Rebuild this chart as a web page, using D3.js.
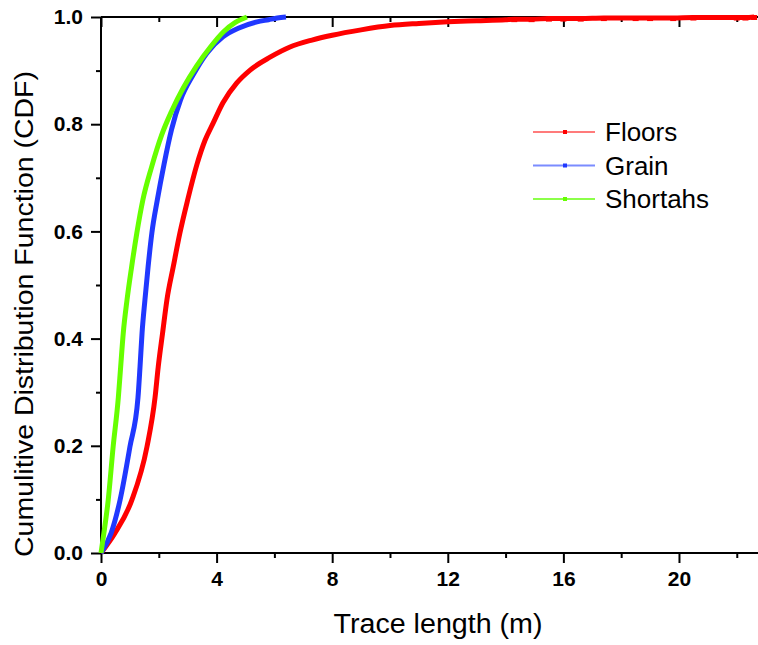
<!DOCTYPE html>
<meta charset="utf-8" />
<script src="https://d3js.org/d3.v7.min.js"></script>
<style>
  body { margin: 0; background: #fff; }
  text { font-family: "Liberation Sans", Arial, sans-serif; }
</style>
<body>
<div id="chart"></div>
<script>
  // CDF values: [trace length (m), CDF]
  var floors = [
    [0, 0], [0.48, 0.037], [1.07, 0.099], [1.59, 0.198], [1.87, 0.29],
    [1.98, 0.347], [2.13, 0.41], [2.28, 0.472], [2.5, 0.534], [2.73, 0.597],
    [3.0, 0.659], [3.32, 0.725], [3.6, 0.77], [3.88, 0.802], [4.22, 0.84],
    [4.7, 0.877], [5.16, 0.901], [5.85, 0.925], [6.54, 0.944], [7.3, 0.957],
    [8, 0.966], [9, 0.976], [10, 0.984], [11, 0.988], [12, 0.991],
    [13, 0.993], [14, 0.995], [14.3, 0.996], [14.9, 0.996], [15.5, 0.997],
    [16.0, 0.997], [16.6, 0.997], [17.4, 0.998], [18.5, 0.998], [19.0, 0.998],
    [19.8, 0.998], [20.5, 0.999], [22.0, 0.999], [22.3, 0.999], [22.6, 1.0]
  ];
  var grain = [
    [0, 0], [0.35, 0.037], [0.66, 0.099], [1.0, 0.198], [1.28, 0.29],
    [1.35, 0.347], [1.42, 0.41], [1.52, 0.472], [1.63, 0.534], [1.76, 0.597],
    [1.95, 0.659], [2.18, 0.725], [2.44, 0.79], [2.75, 0.845], [3.2, 0.893],
    [3.67, 0.933], [4.22, 0.963], [4.75, 0.979], [5.4, 0.991], [5.8, 0.995],
    [6.1, 0.998], [6.4, 1.0]
  ];
  var shortahs = [
    [0, 0], [0.1, 0.037], [0.25, 0.099], [0.42, 0.198], [0.6, 0.29],
    [0.68, 0.347], [0.77, 0.41], [0.9, 0.472], [1.06, 0.534], [1.24, 0.597],
    [1.45, 0.659], [1.75, 0.72], [2.1, 0.78], [2.45, 0.825], [2.85, 0.868],
    [3.3, 0.908], [3.8, 0.945], [4.25, 0.973], [4.65, 0.99], [5.05, 1.0]
  ];
  var seriesNames = ["Floors", "Grain", "Shortahs"];
  var seriesColors = ["#ff0000", "#2038ff", "#66ff00"];
  var legendColors = ["#ff7b7b", "#7b8cff", "#8cff4a"];
  var xMajor = [0, 4, 8, 12, 16, 20];
  var xMinor = [2, 6, 10, 14, 18, 22];
  var yMajor = [0, 0.2, 0.4, 0.6, 0.8, 1.0];
  var yMinor = [0.1, 0.3, 0.5, 0.7, 0.9];

  var W = 758, H = 645;
  var plotL = 101, plotR = 757, plotT = 17, plotB = 553;

  var svg = d3.select("#chart").append("svg")
    .attr("width", W).attr("height", H);

  var x = d3.scaleLinear().domain([0, 22.7]).range([plotL, plotR]);
  var y = d3.scaleLinear().domain([0, 1]).range([plotB, plotT]);

  function styleAxis(g) {
    g.attr("font-size", 21).attr("font-weight", "bold")
      .attr("font-family", "'Liberation Sans', Arial, sans-serif");
    g.select(".domain").remove();
    g.selectAll("line").attr("stroke", "#000").attr("stroke-width", 2);
    g.selectAll("text").attr("fill", "#000");
  }

  // bottom axis
  svg.append("g").attr("transform", "translate(0," + plotB + ")")
    .call(d3.axisBottom(x).tickValues(xMajor).tickSize(10).tickPadding(8)
      .tickFormat(d3.format("d")))
    .call(styleAxis);
  svg.append("g").attr("transform", "translate(0," + plotB + ")")
    .call(d3.axisBottom(x).tickValues(xMinor).tickSize(5).tickFormat(""))
    .call(styleAxis);

  // left axis
  svg.append("g").attr("transform", "translate(" + plotL + ",0)")
    .call(d3.axisLeft(y).tickValues(yMajor).tickSize(10).tickPadding(8)
      .tickFormat(d3.format(".1f")))
    .call(styleAxis);
  svg.append("g").attr("transform", "translate(" + plotL + ",0)")
    .call(d3.axisLeft(y).tickValues(yMinor).tickSize(5).tickFormat(""))
    .call(styleAxis);

  // top axis, ticks pointing inward
  svg.append("g").attr("transform", "translate(0," + plotT + ")")
    .call(d3.axisTop(x).tickValues(xMajor).tickSize(-10).tickFormat(""))
    .call(styleAxis);
  svg.append("g").attr("transform", "translate(0," + plotT + ")")
    .call(d3.axisTop(x).tickValues(xMinor).tickSize(-5).tickFormat(""))
    .call(styleAxis);

  // frame lines
  svg.append("line").attr("x1", plotL).attr("x2", W).attr("y1", plotB).attr("y2", plotB)
    .attr("stroke", "#000").attr("stroke-width", 2);
  svg.append("line").attr("x1", plotL).attr("x2", W).attr("y1", plotT).attr("y2", plotT)
    .attr("stroke", "#000").attr("stroke-width", 2);
  svg.append("line").attr("x1", plotL).attr("x2", plotL).attr("y1", plotT).attr("y2", plotB)
    .attr("stroke", "#000").attr("stroke-width", 2);

  // axis titles
  svg.append("text")
    .attr("x", 438).attr("y", 633)
    .attr("text-anchor", "middle")
    .attr("textLength", 209).attr("lengthAdjust", "spacingAndGlyphs")
    .style("font-size", "27px")
    .text("Trace length (m)");

  svg.append("text")
    .attr("transform", "translate(33,314) rotate(-90)")
    .attr("text-anchor", "middle")
    .attr("textLength", 486).attr("lengthAdjust", "spacingAndGlyphs")
    .style("font-size", "26px")
    .text("Cumulitive Distribution Function (CDF)");

  // curves
  var line = d3.line()
    .x(function(d) { return x(d[0]); })
    .y(function(d) { return y(d[1]); })
    .curve(d3.curveMonotoneX);

  var allSeries = [floors, grain, shortahs];
  allSeries.forEach(function(data, i) {
    svg.append("path")
      .datum(data)
      .attr("d", line)
      .attr("fill", "none")
      .attr("stroke", seriesColors[i])
      .attr("stroke-width", 5)
      .attr("stroke-linejoin", "round");
  });

  // scattered tail symbols of Floors
  svg.selectAll(".tail")
    .data(floors.filter(function(d) { return d[0] > 14; }))
    .enter().append("rect")
    .attr("x", function(d) { return x(d[0]) - 3; })
    .attr("y", function(d) { return y(d[1]) - 2; })
    .attr("width", 6).attr("height", 5)
    .attr("fill", "#ff0000");

  // legend
  var legend = svg.append("g");
  seriesNames.forEach(function(name, i) {
    var ly = 132 + i * 33.5;
    legend.append("line")
      .attr("x1", 533).attr("x2", 595).attr("y1", ly).attr("y2", ly)
      .attr("stroke", legendColors[i]).attr("stroke-width", 2);
    legend.append("rect")
      .attr("x", 563).attr("y", ly - 2).attr("width", 4).attr("height", 4)
      .attr("fill", seriesColors[i]);
    legend.append("text")
      .attr("x", 605).attr("y", ly + 9)
      .style("font-size", "26px")
      .text(name);
  });
</script>
</body>
